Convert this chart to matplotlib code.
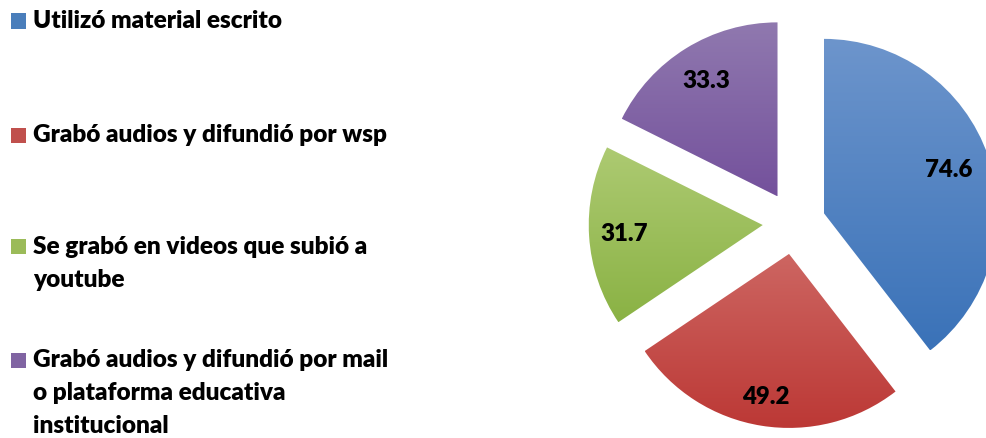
import numpy as np
import matplotlib
matplotlib.use("Agg")
import matplotlib.pyplot as plt
from matplotlib.colors import LinearSegmentedColormap

categories = [
    "Utilizó material escrito",
    "Grabó audios y difundió por wsp",
    "Se grabó en videos que subió a\nyoutube",
    "Grabó audios y difundió por mail\no plataforma educativa\ninstitucional",
]
values = [74.6, 49.2, 31.7, 33.3]
value_labels = ["74.6", "49.2", "31.7", "33.3"]
top_colors = ["#6D95CC", "#CD6662", "#ADCA72", "#9079AF"]
bottom_colors = ["#3A72B8", "#BC3835", "#8AB244", "#74519C"]
legend_colors = ["#4A7EBB", "#C0504D", "#9BBB59", "#8064A2"]

W, H = 987, 438
fig = plt.figure(figsize=(W / 100, H / 100), dpi=100)
fig.patch.set_facecolor("white")

R = 174.0
cx, cy = 794.0, 223.0
ax = fig.add_axes([0, 0, 1, 1])

explode = [0.18] * len(values)
wedges, texts = ax.pie(values, startangle=90, counterclock=False, explode=explode,
                       radius=1.0, center=(0, 0), frame=True,
                       wedgeprops=dict(linewidth=0))
ax.set_xlim(-cx / R, (W - cx) / R)
ax.set_ylim(-(H - cy) / R, cy / R)
ax.set_aspect("auto")
ax.axis("off")

for w, tc, bc in zip(wedges, top_colors, bottom_colors):
    w.set_facecolor("none")
    path = w.get_path()
    verts = w.get_transform().transform(path.vertices)
    verts = ax.transData.inverted().transform(verts)
    x0, y0 = verts.min(axis=0)
    x1, y1 = verts.max(axis=0)
    cmap = LinearSegmentedColormap.from_list("g", [tc, bc])
    im = ax.imshow(np.linspace(0, 1, 256).reshape(-1, 1), cmap=cmap,
                   extent=[x0, x1, y0, y1], aspect="auto", origin="upper",
                   zorder=1, interpolation="bilinear")
    im.set_clip_path(w)

ax.set_xlim(-cx / R, (W - cx) / R)
ax.set_ylim(-(H - cy) / R, cy / R)

total = sum(values)
label_r = [0.76, 0.83, 0.80, 0.78]
ang = 90.0
for v, lab, lr in zip(values, value_labels, label_r):
    span = v / total * 360
    mid = np.deg2rad(ang - span / 2)
    ang -= span
    off = 0.18
    x = (lr + off) * np.cos(mid)
    y = (lr + off) * np.sin(mid)
    ax.text(x, y, lab, ha="center", va="center", fontsize=17.3,
            fontweight="heavy", family="Lato", color="black", zorder=5)

leg_y = [[21], [135], [247, 280], [360, 393, 426]]
for cat, col, ys in zip(categories, legend_colors, leg_y):
    y0 = ys[0]
    fig.patches.append(plt.Rectangle((11 / W, 1 - (y0 + 7.5) / H), 15 / W, 15 / H,
                                     transform=fig.transFigure, facecolor=col,
                                     edgecolor="none"))
    for line, yy in zip(cat.split("\n"), ys):
        fig.text(33 / W, 1 - yy / H, line, ha="left", va="center",
                 fontsize=17.6, fontweight="heavy", family="Lato", color="black")

fig.savefig("out.png", dpi=100, facecolor="white")
